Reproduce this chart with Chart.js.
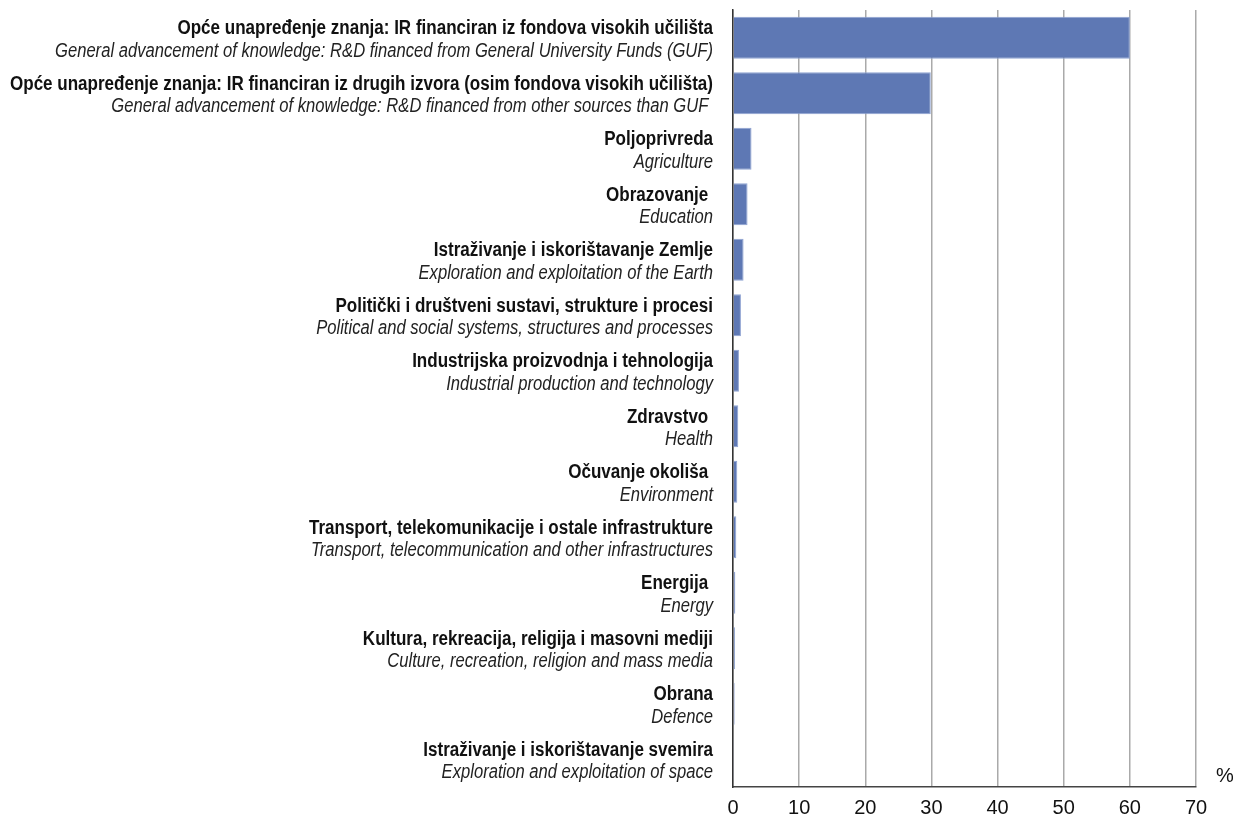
<!DOCTYPE html>
<html>
<head>
<meta charset="utf-8">
<script src="https://cdn.jsdelivr.net/npm/chart.js@4.4.1/dist/chart.umd.min.js"></script>
<style>
  body { margin: 0; background: #ffffff; }
  canvas { display: block; }
</style>
</head>
<body>
<canvas id="barChart" width="1233" height="816"></canvas>
<script>
var labelsHr = [
    'Opće unapređenje znanja: IR financiran iz fondova visokih učilišta',
    'Opće unapređenje znanja: IR financiran iz drugih izvora (osim fondova visokih učilišta)',
    'Poljoprivreda',
    'Obrazovanje ',
    'Istraživanje i iskorištavanje Zemlje',
    'Politički i društveni sustavi, strukture i procesi',
    'Industrijska proizvodnja i tehnologija',
    'Zdravstvo ',
    'Očuvanje okoliša ',
    'Transport, telekomunikacije i ostale infrastrukture',
    'Energija ',
    'Kultura, rekreacija, religija i masovni mediji',
    'Obrana',
    'Istraživanje i iskorištavanje svemira'
];
var labelsEn = [
    'General advancement of knowledge: R&D financed from General University Funds (GUF)',
    'General advancement of knowledge: R&D financed from other sources than GUF ',
    'Agriculture',
    'Education',
    'Exploration and exploitation of the Earth',
    'Political and social systems, structures and processes',
    'Industrial production and technology',
    'Health',
    'Environment',
    'Transport, telecommunication and other infrastructures',
    'Energy',
    'Culture, recreation, religion and mass media',
    'Defence',
    'Exploration and exploitation of space'
];
var values = [60.0, 29.9, 2.8, 2.2, 1.6, 1.2, 0.9, 0.8, 0.65, 0.5, 0.35, 0.3, 0.25, 0.15];
var xTicks = [0, 10, 20, 30, 40, 50, 60, 70];

// two-line labels: bold Croatian, italic English, squeezed to a condensed look
var labelPlugin = {
    id: 'twoLineLabels',
    afterDraw: function (chart) {
        var ctx = chart.ctx;
        var yScale = chart.scales.y;
        var right = chart.chartArea.left - 20;
        ctx.save();
        ctx.fillStyle = '#111111';
        ctx.textAlign = 'right';
        ctx.textBaseline = 'alphabetic';

        ctx.font = 'bold 20px "Liberation Sans", Arial, sans-serif';
        var sxBold = 703 / ctx.measureText(labelsHr[1]).width;
        ctx.font = 'italic 20px "Liberation Sans", Arial, sans-serif';
        var sxItal = 658 / ctx.measureText(labelsEn[0]).width;

        for (var i = 0; i < labelsHr.length; i++) {
            var y = yScale.getPixelForValue(i);
            ctx.save();
            ctx.font = 'bold 20px "Liberation Sans", Arial, sans-serif';
            ctx.translate(right, y - 3.5);
            ctx.scale(sxBold, 1);
            ctx.fillText(labelsHr[i], 0, 0);
            ctx.restore();

            ctx.save();
            ctx.font = 'italic 20px "Liberation Sans", Arial, sans-serif';
            ctx.fillStyle = '#222222';
            ctx.translate(right, y + 19);
            ctx.scale(sxItal, 1);
            ctx.fillText(labelsEn[i], 0, 0);
            ctx.restore();
        }

        ctx.font = '20px "Liberation Sans", Arial, sans-serif';
        ctx.textAlign = 'center';
        ctx.textBaseline = 'middle';
        ctx.fillText('%', 1225, 776);
        ctx.restore();
    }
};

var ctxBar = document.getElementById('barChart').getContext('2d');
var barChart = new Chart(ctxBar, {
    type: 'bar',
    data: {
        labels: labelsHr,
        datasets: [{
            data: values,
            backgroundColor: '#5e78b4',
            borderColor: '#8fa3d2',
            borderWidth: 1,
            barPercentage: 0.76,
            categoryPercentage: 1.0
        }]
    },
    options: {
        indexAxis: 'y',
        responsive: false,
        animation: false,
        devicePixelRatio: 1,
        layout: {
            padding: { top: 10, right: 37, left: 0, bottom: 0 }
        },
        plugins: {
            legend: { display: false },
            tooltip: { enabled: false }
        },
        scales: {
            x: {
                min: 0,
                max: 70,
                afterBuildTicks: function (scale) {
                    scale.ticks = xTicks.map(function (v) { return { value: v }; });
                },
                afterFit: function (scale) { scale.height = 29; },
                ticks: {
                    padding: 9,
                    color: '#111111',
                    font: { family: '"Liberation Sans", Arial, sans-serif', size: 20 }
                },
                grid: {
                    color: '#aaaaaa',
                    lineWidth: 1.5,
                    drawTicks: false
                },
                border: { display: true, color: '#444444', width: 1.5 }
            },
            y: {
                afterFit: function (scale) { scale.width = 733; },
                ticks: { display: false },
                grid: { display: false, drawTicks: false },
                border: { display: true, color: '#333333', width: 1.5 }
            }
        }
    },
    plugins: [labelPlugin]
});
</script>
</body>
</html>
